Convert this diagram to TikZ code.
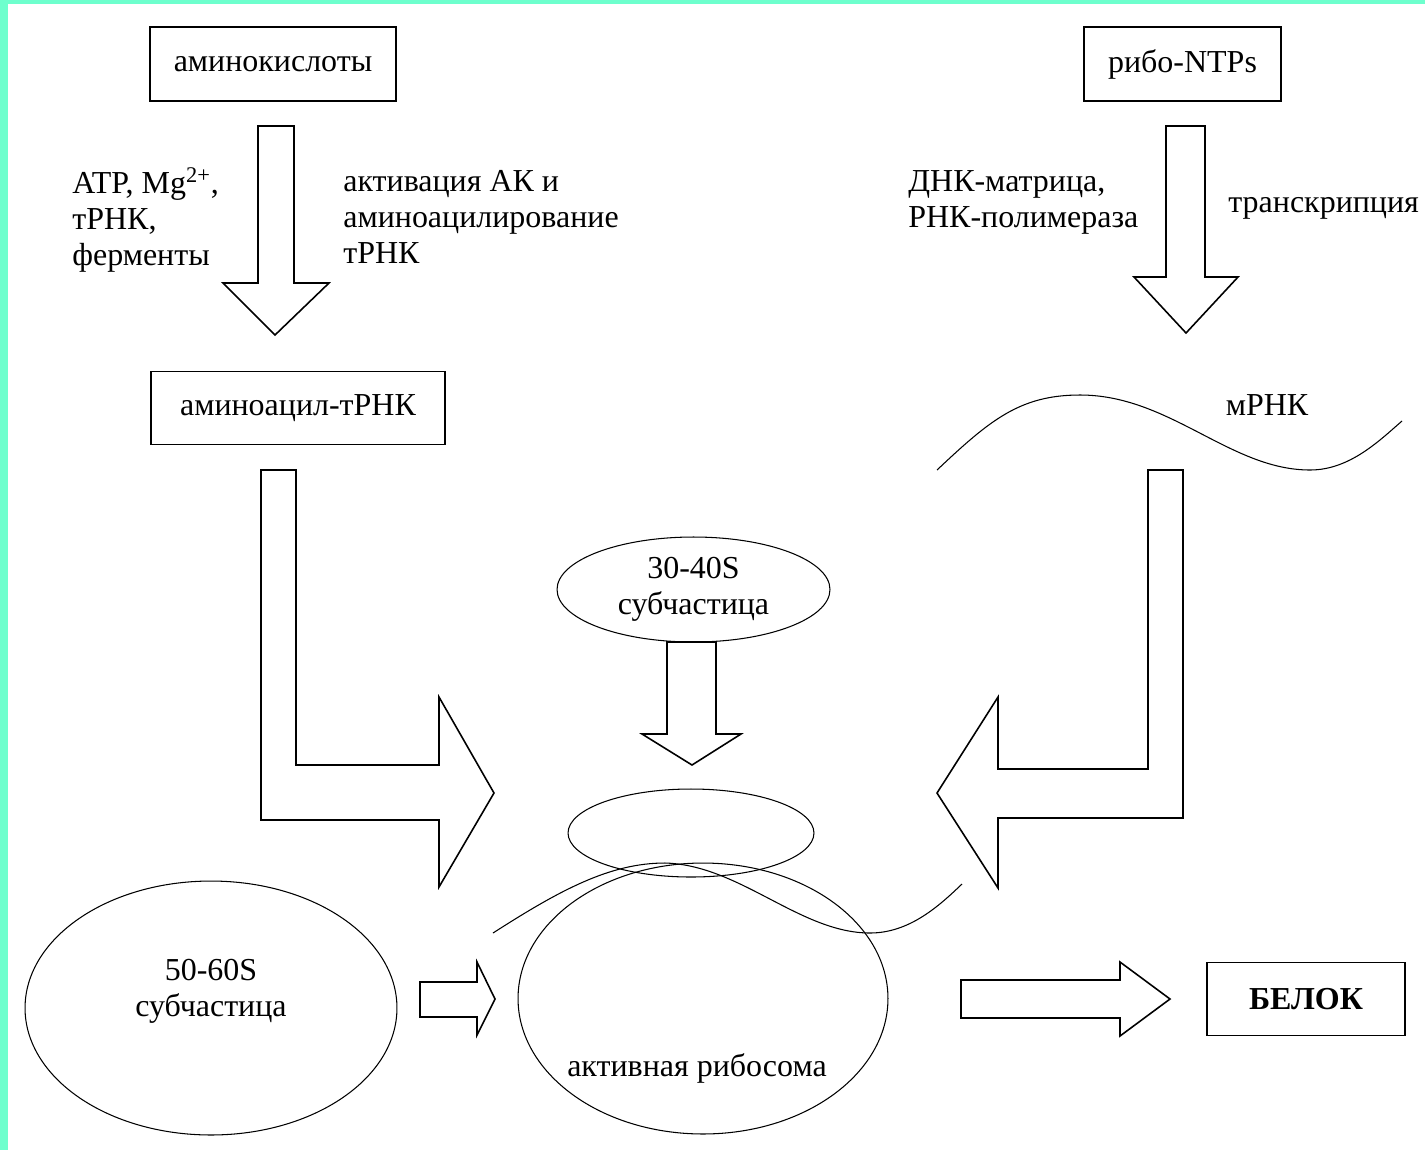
\documentclass[tikz,border=0pt]{standalone}
\usepackage{fontspec}
\setmainfont{Liberation Serif}
\usetikzlibrary{shapes.geometric}
\definecolor{frame}{RGB}{110,255,205}
\begin{document}
\begin{tikzpicture}[x=0.02cm,y=-0.02cm,
  every node/.style={font=\fontsize{18.2}{20.6}\selectfont,inner sep=0pt},
  box/.style={draw,line width=1pt,minimum height=1.48cm},
  oval/.style={draw,ellipse,line width=.6pt},
  blk/.style={draw,line width=.9pt,line join=miter},
  txt/.style={align=left,anchor=north west}]
  \fill[frame] (0,0) rectangle (1425,1150);
  \fill[white] (8,4) rectangle (1425,1150);
  \useasboundingbox (0,0) rectangle (1425,1150);

  \node (aa) at (273,64)[box,minimum width=4.92cm]{аминокислоты};
  \node (ntp) at (1182.5,64)[box,minimum width=3.94cm]{рибо-NTPs};
  \node (aatrna) at (298,408)[box,minimum width=5.88cm,minimum height=1.46cm]{аминоацил-тРНК};
  \node (prot) at (1306,999)[box,minimum width=3.96cm,minimum height=1.46cm]{\bfseries БЕЛОК};

  \node (cof) at (72,167)[txt]{ATP, Mg\textsuperscript{2+},\\тРНК,\\ферменты};
  \node (act) at (343,170)[txt]{активация АК и\\аминоацилирование\\тРНК};
  \node (dna) at (908,170)[txt]{ДНК-матрица,\\РНК-полимераза};
  \node (tr) at (1228,197)[txt]{транскрипция};
  \node (mrna) at (1267,405){мРНК};

  \node (s30) at (693.5,589.5)[oval,minimum width=5.46cm,minimum height=2.1cm,align=center]{30-40S\\субчастица};
  \node (s50) at (211,1008)[oval,minimum width=7.44cm,minimum height=5.08cm]{};
  \node (s50txt) at (211,991)[align=center]{50-60S\\субчастица};
  \node (rib) at (703,998.5)[oval,minimum width=7.4cm,minimum height=5.42cm]{};
  \node (cap) at (691,833)[oval,minimum width=4.92cm,minimum height=1.76cm]{};
  \node (ribtxt) at (697,1068){активная рибосома};

  % block arrows
  \draw[blk] (258,126)--(294,126)--(294,283)--(329,283)--(275,335)--(223,283)--(258,283)--cycle;
  \draw[blk] (1166,126)--(1205,126)--(1205,277)--(1238,277)--(1186,333)--(1134,277)--(1166,277)--cycle;
  \draw[blk] (667,642)--(716,642)--(716,734)--(741,734)--(692,765)--(642,734)--(667,734)--cycle;
  \draw[blk] (261,470)--(296,470)--(296,765)--(439,765)--(439,697)--(494,793)--(439,887)--(439,820)--(261,820)--cycle;
  \draw[blk] (1148,470)--(1183,470)--(1183,818)--(998,818)--(998,888)--(937,793)--(998,697)--(998,769)--(1148,769)--cycle;
  \draw[blk] (420,982)--(477,982)--(477,962)--(495,999)--(477,1035)--(477,1017)--(420,1017)--cycle;
  \draw[blk] (961,980)--(1120,980)--(1120,962)--(1170,999)--(1120,1036)--(1120,1018)--(961,1018)--cycle;

  % mRNA
  \draw[line width=.6pt] (937,470) .. controls (990,420) and (1020,395) .. (1080,395) .. controls (1170,395) and (1230,470) .. (1310,470) .. controls (1350,470) and (1380,440) .. (1402,421);
  \draw[line width=.6pt] (493,933) .. controls (560,890) and (610,863) .. (665,863) .. controls (740,865) and (800,933) .. (870,933) .. controls (910,933) and (940,905) .. (962,884);
\end{tikzpicture}
\end{document}
